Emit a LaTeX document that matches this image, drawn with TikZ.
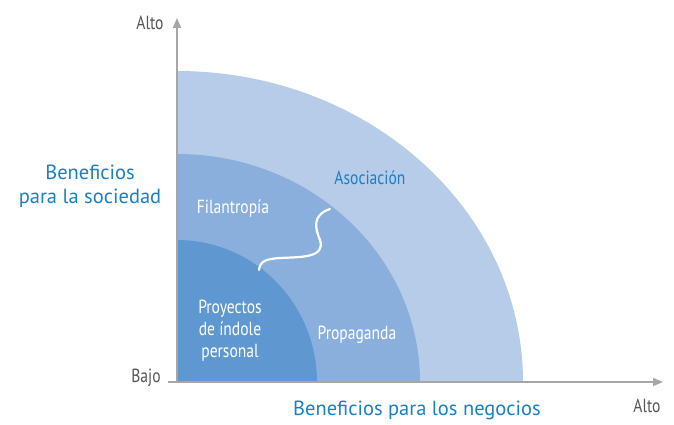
\documentclass[tikz,border=0pt]{standalone}
\usepackage{fontspec}
\setmainfont{PT Sans}
\newfontfamily\condfont[FakeStretch=0.82]{PT Sans}
\usetikzlibrary{arrows.meta, positioning}

\definecolor{ringout}{HTML}{B7CCE8}
\definecolor{ringmid}{HTML}{8BAFDD}
\definecolor{ringin}{HTML}{5F98D0}
\definecolor{axisgray}{HTML}{A6A6A6}
\definecolor{titleblue}{HTML}{1B7FC4}
\definecolor{labelgray}{HTML}{555555}

\begin{document}
\begin{tikzpicture}[
    x=1pt, y=-1pt,
    axis/.style={draw=axisgray, line width=1.5pt, -{Triangle[length=10pt, width=8pt]}},
    title/.style={font=\fontsize{20.5}{24}\selectfont, text=titleblue, align=center},
    ticklabel/.style={font=\condfont\fontsize{19}{22}\selectfont, text=labelgray},
    ringlabel/.style={font=\condfont\fontsize{19}{22}\selectfont, text=white, align=center},
    border/.style={draw=white, line width=2.2pt, line cap=round},
]
    \useasboundingbox (0,0) rectangle (674,425);

    % Reference points
    \coordinate (origin) at (177,382);
    \coordinate (ytop) at (177,18);
    \coordinate (xstart) at (168,382);
    \coordinate (xend) at (663,382);

    % Rings
    \fill[ringout] (origin) -- ++(346,0) arc[start angle=0, end angle=-90, x radius=346, y radius=311] -- cycle;
    \fill[ringmid] (origin) -- ++(243,0) arc[start angle=0, end angle=-90, x radius=243, y radius=228] -- cycle;
    \fill[ringin] (origin) -- ++(140,0) arc[start angle=0, end angle=-90, x radius=140, y radius=142] -- cycle;

    % Boundary between Filantropia and Propaganda
    \draw[border] (259,270) .. controls (260,261) and (266,259) .. (280,258)
        .. controls (300,257) and (326,258) .. (320,240)
        .. controls (315,228) and (312,215) .. (330,209);

    % Axes
    \draw[axis] (origin) -- (ytop);
    \draw[axis] (xstart) -- (xend);

    % Axis labels
    \node[ticklabel] (ytoplabel) at (150,23) {Alto};
    \node[ticklabel] (ybotlabel) at (146,378) {Bajo};
    \node[ticklabel] (xendlabel) at (647,406) {Alto};
    \node[title] (ytitle) at (90,186) {Beneficios\\para la sociedad};
    \node[title] (xtitle) at (417,410) {Beneficios para los negocios};

    % Ring labels
    \node[ringlabel, text=titleblue] (asoc) at (370,178) {Asociación};
    \node[ringlabel] (filan) at (233,209) {Filantropía};
    \node[ringlabel] (propa) at (357,335) {Propaganda};
    \node[ringlabel] (proyec) at (230,331) {Proyectos\\de índole\\personal};
\end{tikzpicture}
\end{document}
